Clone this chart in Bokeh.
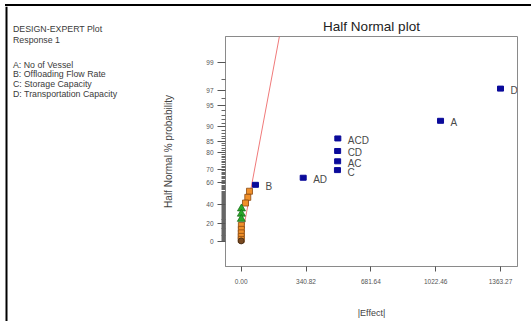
from statistics import NormalDist
from bokeh.plotting import figure
from bokeh.layouts import row, column
from bokeh.models import FixedTicker, Range1d, ColumnDataSource, Div
from bokeh.core.properties import value
from bokeh.embed import file_html
from bokeh.resources import INLINE

# ---------------- data ----------------
title_text = "Half Normal plot"
header_lines = ["DESIGN-EXPERT Plot", "Response 1"]
factor_lines = ["A: No of Vessel", "B: Offloading Flow Rate",
                "C: Storage Capacity", "D: Transportation Capacity"]

# selected (significant) effects
sel_terms = ["D", "A", "ACD", "CD", "AC", "C", "AD", "B"]
sel_effect = [1363.27, 1048.0, 508.0, 507.0, 507.0, 506.0, 326.0, 75.0]
sel_prob = [97.2, 91.7, 86.1, 80.6, 75.0, 69.4, 63.9, 58.3]

# unselected effects (orange squares)
oth_effect = [43.6, 34.7, 22.6, 1.0, 0.8, 0.6, 0.4, 0.2]
oth_prob = [52.8, 47.2, 41.7, 18.0, 13.5, 9.5, 5.5, 2.0]

# pure error estimates (green triangles)
pe_effect = [1.5, 1.0, 0.8]
pe_prob = [36.1, 30.6, 25.0]

# zero effect (circle)
zero_effect = [0.0]
zero_prob = [0.3]

# fitted line: |effect| = fit_slope * z
fit_slope = 68.1
fit_prob = [18.0, 99.95]

x_ticks = [0.0, 340.82, 681.64, 1022.46, 1363.27]
x_tick_labels = ["0.00", "340.82", "681.64", "1022.46", "1363.27"]
y_tick_prob = [0, 20, 40, 60, 70, 80, 85, 90, 95, 97, 99]
y_minor_prob = [p for p in range(0, 100) if p not in y_tick_prob]

x_label = "|Effect|"
y_label = "Half Normal % probability"

# ---------------- helpers ----------------
nd = NormalDist()


def hn(p):
    return nd.inv_cdf(0.5 + p / 200.0)


FONT = "Liberation Sans"
W, H = 531, 321
STRIP = 6          # height of the top strip that carries the screenshot border
SPLIT = 140        # width of the left info panel
FL, FR, FT, FB = 225, 517, 36, 266   # plot frame on the page


def blank(width, height, x0, x1, y0, y1):
    f = figure(width=width, height=height, output_backend="svg",
               toolbar_location=None, x_axis_type=None, y_axis_type=None,
               x_range=Range1d(x0, x1), y_range=Range1d(y1, y0),
               frame_align=False, min_border=0, min_border_left=0,
               min_border_right=0, min_border_top=0, min_border_bottom=0)
    f.grid.visible = False
    f.outline_line_color = None
    f.background_fill_color = "white"
    f.border_fill_color = "white"
    return f


# ---- top strip: black border line of the original screenshot ----
strip = Div(text="", width=W, height=STRIP, margin=0,
            styles={"background": "linear-gradient(#000, #000) 5px 4px / 526px 2px "
                                  "no-repeat #fff"})

# ---- left info panel ----
info = blank(SPLIT, H - STRIP, 0, SPLIT, STRIP, H)
info.quad(left=[5], right=[7], top=[STRIP], bottom=[H], fill_color="black",
          line_color=None)
info_y = [28.5 + 11 * i for i in range(len(header_lines))] + \
         [64 + 9.9 * i for i in range(len(factor_lines))]
info.text([12.5] * len(info_y), info_y, text=header_lines + factor_lines,
          text_font=value(FONT), text_font_size="8.8px", text_color="#3a3a3a",
          text_align="left", text_baseline="alphabetic")

# ---- main plot ----
p = figure(width=W - SPLIT, height=H - STRIP, output_backend="svg",
           toolbar_location=None, frame_align=False,
           x_range=Range1d(-82.5, 1452.6), y_range=Range1d(-0.365, 2.948),
           min_border_left=FL - SPLIT, min_border_right=W - FR,
           min_border_top=FT - STRIP, min_border_bottom=H - FB)
p.title.text = title_text
p.title.align = "center"
p.title.text_font = FONT
p.title.text_font_size = "13.5px"
p.title.text_font_style = "normal"
p.title.text_color = "#222222"
p.title.standoff = 5
p.xgrid.visible = False
p.ygrid.visible = False
p.outline_line_color = "#8a8a8a"
p.outline_line_width = 1
p.background_fill_color = "white"
p.border_fill_color = "white"

# x axis
p.xaxis.ticker = FixedTicker(ticks=x_ticks)
p.xaxis.major_label_overrides = dict(zip(x_ticks, x_tick_labels))
p.xaxis.axis_line_color = "#8a8a8a"
p.xaxis.major_tick_line_color = "#555555"
p.xaxis.major_tick_out = 5
p.xaxis.major_tick_in = 0
p.xaxis.minor_tick_line_color = None
p.xaxis.major_label_text_font = FONT
p.xaxis.major_label_text_font_size = "6.5px"
p.xaxis.major_label_text_color = "#555555"
p.xaxis.major_label_standoff = 7
p.xaxis.axis_label = x_label
p.xaxis.axis_label_text_font = FONT
p.xaxis.axis_label_text_font_size = "9px"
p.xaxis.axis_label_text_font_style = "normal"
p.xaxis.axis_label_text_color = "#444444"
p.xaxis.axis_label_standoff = 21

# y axis
y_ticks = [hn(v) for v in y_tick_prob]
p.yaxis.ticker = FixedTicker(ticks=y_ticks, minor_ticks=[hn(v) for v in y_minor_prob])
p.yaxis.major_label_overrides = {t: str(v) for t, v in zip(y_ticks, y_tick_prob)}
p.yaxis.axis_line_color = "#8a8a8a"
p.yaxis.major_tick_line_color = "#555555"
p.yaxis.minor_tick_line_color = "#666666"
p.yaxis.major_tick_out = 8
p.yaxis.major_tick_in = 0
p.yaxis.minor_tick_out = 4
p.yaxis.minor_tick_in = 0
p.yaxis.major_label_text_font = FONT
p.yaxis.major_label_text_font_size = "6.5px"
p.yaxis.major_label_text_color = "#555555"
p.yaxis.major_label_standoff = 4
p.yaxis.axis_label = y_label
p.yaxis.axis_label_text_font = FONT
p.yaxis.axis_label_text_font_size = "10px"
p.yaxis.axis_label_text_font_style = "normal"
p.yaxis.axis_label_text_color = "#444444"
p.yaxis.axis_label_standoff = 29

# fitted line
p.line([fit_slope * hn(v) for v in fit_prob], [hn(v) for v in fit_prob],
       line_color="#f07a7a", line_width=1)

# unselected effects
p.rect(oth_effect, [hn(v) for v in oth_prob], width=6, height=6,
       width_units="screen", height_units="screen",
       fill_color="#f0902a", line_color="#8a4a12", line_width=0.8)
# pure error
p.scatter(pe_effect, [hn(v) for v in pe_prob], marker="triangle", size=8,
          fill_color="#28a828", line_color="#1a6e1a", line_width=0.8)
# zero
p.scatter(zero_effect, [hn(v) for v in zero_prob], marker="circle", size=6,
          fill_color="#7a4a20", line_color="#3a2410", line_width=0.8)

# selected effects
src = ColumnDataSource(dict(x=sel_effect, y=[hn(v) for v in sel_prob], t=sel_terms))
p.rect("x", "y", width=6, height=5, width_units="screen", height_units="screen",
       fill_color="#0a0a9a", line_color="#0a0a9a", source=src)
p.text("x", "y", text="t", source=src, x_offset=10, y_offset=2,
       text_font=value(FONT), text_font_size="10px", text_color="#4a4a4a",
       text_baseline="middle", text_align="left")

layout = column(strip, row(info, p, spacing=0), spacing=0)
open("out.html", "w").write(file_html(layout, INLINE))
